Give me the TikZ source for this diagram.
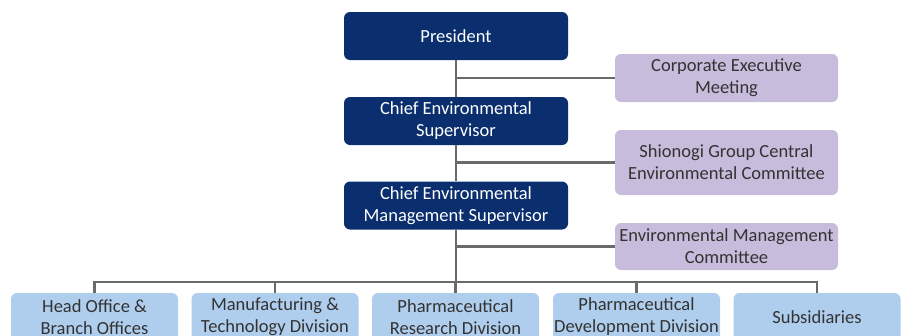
\documentclass[tikz,border=0pt]{standalone}
\usepackage{fontspec}
\setmainfont{Carlito}
\begin{document}
\begin{tikzpicture}[x=1pt,y=-1pt,
  every node/.style={font=\fontsize{18.5}{22}\selectfont, align=center, inner sep=0pt, rounded corners=6pt},
  navy/.style={fill=navyc, text=white, minimum width=224pt, minimum height=48pt},
  lav/.style={fill=lavc, text=txtc, minimum width=223pt},
  blu/.style={fill=bluc, text=txtc, minimum width=167pt, minimum height=48pt},
  conn/.style={draw=linec, line width=2.8pt}]
\definecolor{navyc}{HTML}{0A2E6E}
\definecolor{lavc}{HTML}{C7BCDB}
\definecolor{bluc}{HTML}{AFCDEC}
\definecolor{txtc}{HTML}{333333}
\definecolor{linec}{HTML}{6A6A6A}
\useasboundingbox (0,0) rectangle (905,335);
\clip (0,0) rectangle (905,335);
\node[navy] (pres) at (456,36) {President};
\node[navy] (ces) at (456,121) {Chief Environmental\\Supervisor};
\node[navy] (cems) at (456,205.5) {Chief Environmental\\Management Supervisor};
\node[lav, minimum height=48pt] (cem) at (726.5,78) {Corporate Executive\\Meeting};
\node[lav, minimum height=65pt] (sgc) at (726.5,162.5) {Shionogi Group Central\\Environmental Committee};
\node[lav, minimum height=47pt] (emc) at (726.5,246.5) {Environmental Management\\Committee};
\node[blu] (b1) at (94.5,317) {Head Office \&\\Branch Offices};
\node[blu] (b2) at (275,317) {Manufacturing \&\\Technology Division};
\node[blu] (b3) at (455.5,317) {Pharmaceutical\\Research Division};
\node[blu] (b4) at (636.5,317) {Pharmaceutical\\Development Division};
\node[blu] (b5) at (817,317) {Subsidiaries};
\coordinate (bus) at (456,282);
\draw[conn] (pres.south) -- (ces.north);
\draw[conn] (ces.south) -- (cems.north);
\draw[conn] (cems.south) -- (bus);
\draw[conn] (cem.west) -- (cem.west -| pres.south);
\draw[conn] (sgc.west) -- (sgc.west -| pres.south);
\draw[conn] (emc.west) -- (emc.west -| pres.south);
\draw[conn] (b1.north) |- (bus) -| (b5.north);
\draw[conn] (b2.north) -- (b2.north |- bus);
\draw[conn] (b3.north) -- (b3.north |- bus);
\draw[conn] (b4.north) -- (b4.north |- bus);
\end{tikzpicture}
\end{document}
